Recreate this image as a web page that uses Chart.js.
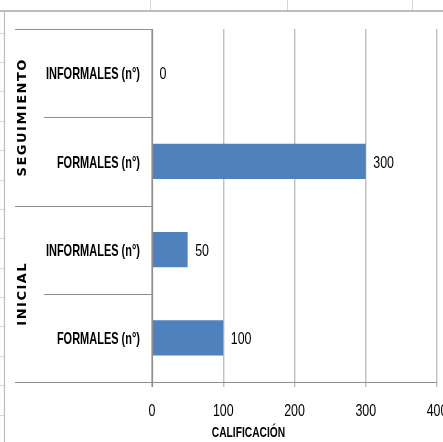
<!DOCTYPE html>
<html>
<head>
<meta charset="utf-8">
<script src="https://cdn.jsdelivr.net/npm/chart.js@4/dist/chart.umd.min.js"></script>
<style>
  html, body { margin: 0; padding: 0; background: #fff; overflow: hidden; width: 443px; height: 442px; }
  canvas { display: block; }
</style>
</head>
<body>
<canvas id="c" width="480" height="442"></canvas>
<script>
// Category labels, top to bottom
const categories = ['INFORMALES (n°)', 'FORMALES (n°)', 'INFORMALES (n°)', 'FORMALES (n°)'];
// Count per category
const values = [0, 300, 50, 100];
// Outer grouping of the categories (top to bottom) and how many categories each spans
const groupNames = ['SEGUIMIENTO', 'INICIAL'];
const groupSizes = [2, 2];
// Value axis
const axisTitle = 'CALIFICACIÓN';
const xMin = 0, xMax = 400, xStep = 100;

const SANS = "'Liberation Sans', Arial, sans-serif";
const BAR_BLUE = '#4f81bd';
const LINE_GRAY = '#8f8f8f';

// Text drawn tall and narrow, like a condensed face
function condensedText(ctx, text, x, y, font, squeeze, align) {
  ctx.save();
  ctx.translate(x, y);
  ctx.scale(squeeze, 1);
  ctx.font = font;
  ctx.fillStyle = '#000';
  ctx.textAlign = align;
  ctx.textBaseline = 'middle';
  ctx.fillText(text, 0, 0);
  ctx.restore();
}

// Spreadsheet cell lines around the chart object
const sheetFrame = {
  id: 'sheetFrame',
  beforeDraw(chart) {
    const ctx = chart.ctx;
    ctx.save();
    ctx.fillStyle = '#fff';
    ctx.fillRect(0, 0, chart.width, chart.height);
    ctx.strokeStyle = '#d6d6d6';
    ctx.lineWidth = 1;
    [150.5, 287.5, 412.5].forEach(cx => {
      ctx.beginPath(); ctx.moveTo(cx, 0); ctx.lineTo(cx, 10); ctx.stroke();
    });
    for (let ry = 32.5; ry < chart.height; ry += 29.4) {
      ctx.beginPath(); ctx.moveTo(0, Math.round(ry) + 0.5); ctx.lineTo(4, Math.round(ry) + 0.5); ctx.stroke();
    }
    ctx.strokeStyle = '#a6a6a6';
    ctx.lineWidth = 1.5;
    ctx.beginPath(); ctx.moveTo(0, 11); ctx.lineTo(chart.width, 11); ctx.stroke();
    ctx.strokeStyle = '#bdbdbd';
    ctx.lineWidth = 1.2;
    ctx.beginPath(); ctx.moveTo(4.5, 11); ctx.lineTo(4.5, chart.height); ctx.stroke();
    ctx.restore();
  }
};

// Category labels and separators, group labels, axis lines, tick labels and axis title
const groupAxis = {
  id: 'groupAxis',
  afterDraw(chart) {
    const ctx = chart.ctx;
    const ys = chart.scales.y, xs = chart.scales.x;
    const area = chart.chartArea;
    const n = categories.length;
    const step = ys.getPixelForValue(1) - ys.getPixelForValue(0);
    const bounds = [];
    for (let i = 0; i < n; i++) bounds.push(ys.getPixelForValue(i) - step / 2);
    bounds.push(ys.getPixelForValue(n - 1) + step / 2);

    const groupEdges = [0];
    groupSizes.forEach(s => groupEdges.push(groupEdges[groupEdges.length - 1] + s));

    ctx.save();
    ctx.strokeStyle = LINE_GRAY;
    ctx.lineWidth = 1.2;
    bounds.forEach((b, i) => {
      const isGroupEdge = groupEdges.includes(i);
      const startX = isGroupEdge ? 15 : 44;
      const endX = i === n ? xs.right : area.left;
      ctx.beginPath();
      ctx.moveTo(startX, Math.round(b) + 0.5);
      ctx.lineTo(endX, Math.round(b) + 0.5);
      ctx.stroke();
    });
    // category axis line
    ctx.beginPath();
    ctx.moveTo(Math.round(area.left) + 0.5, area.top);
    ctx.lineTo(Math.round(area.left) + 0.5, area.bottom + 5);
    ctx.stroke();

    // category labels
    categories.forEach((label, i) => {
      condensedText(ctx, label, area.left - 12, ys.getPixelForValue(i) + 1.5,
        'bold 17px ' + SANS, 0.646, 'right');
    });

    // value tick labels
    xs.ticks.forEach(t => {
      condensedText(ctx, String(t.value), xs.getPixelForValue(t.value), 411,
        '17px ' + SANS, 0.73, 'center');
    });

    // rotated group labels
    ctx.fillStyle = '#000';
    ctx.font = "bold 13px 'DejaVu Sans', Verdana, sans-serif";
    ctx.letterSpacing = '1.5px';
    ctx.textAlign = 'center';
    ctx.textBaseline = 'middle';
    groupNames.forEach((name, g) => {
      const top = bounds[groupEdges[g]];
      const bottom = bounds[groupEdges[g + 1]];
      ctx.save();
      ctx.translate(23, (top + bottom) / 2);
      ctx.rotate(-Math.PI / 2);
      ctx.fillText(name, 0, 0);
      ctx.restore();
    });
    ctx.letterSpacing = '0px';

    // value axis title
    condensedText(ctx, axisTitle, 248.5, 433, 'bold 15.5px ' + SANS, 0.66, 'center');
    ctx.restore();
  }
};

// Value labels to the right of each bar
const barValues = {
  id: 'barValues',
  afterDatasetsDraw(chart) {
    const meta = chart.getDatasetMeta(0);
    meta.data.forEach((bar, i) => {
      condensedText(chart.ctx, String(values[i]), bar.x + 7.5, bar.y + 1.5,
        '17px ' + SANS, 0.73, 'left');
    });
  }
};

new Chart(document.getElementById('c'), {
  type: 'bar',
  data: {
    labels: categories,
    datasets: [{
      data: values,
      backgroundColor: BAR_BLUE,
      borderWidth: 0,
      barPercentage: 0.4,
      categoryPercentage: 1.0
    }]
  },
  options: {
    indexAxis: 'y',
    responsive: false,
    animation: false,
    devicePixelRatio: 1,
    layout: { padding: { top: 29, right: 43, bottom: 0, left: 0 } },
    plugins: {
      legend: { display: false },
      tooltip: { enabled: false }
    },
    scales: {
      x: {
        min: xMin,
        max: xMax,
        ticks: { stepSize: xStep, display: false },
        grid: {
          color: '#bfbfbf',
          lineWidth: 1.4,
          tickLength: 5,
          drawTicks: true
        },
        border: { display: false },
        afterFit(scale) { scale.height = 60; }
      },
      y: {
        ticks: { display: false },
        grid: { display: false, drawTicks: false },
        border: { display: false },
        afterFit(scale) { scale.width = 152; }
      }
    }
  },
  plugins: [sheetFrame, groupAxis, barValues]
});
</script>
</body>
</html>
